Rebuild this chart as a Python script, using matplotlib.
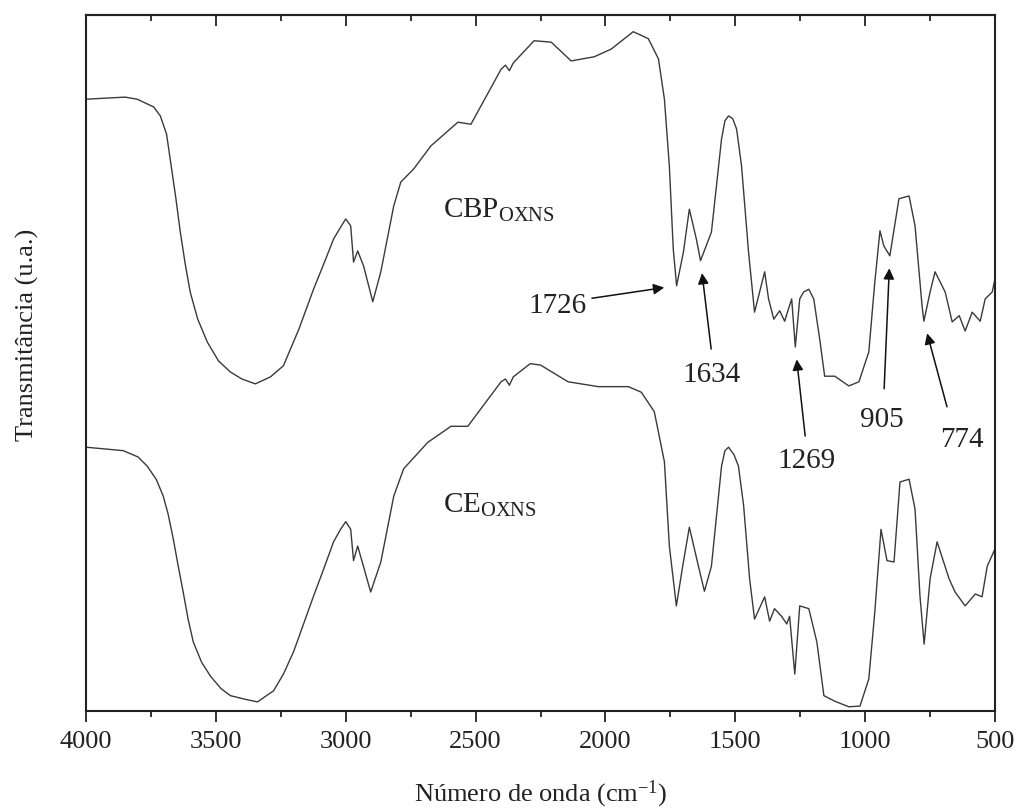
import numpy as np
import matplotlib
matplotlib.use("Agg")
import matplotlib.pyplot as plt
from matplotlib.ticker import MultipleLocator

# FTIR spectra (wavenumber in cm^-1, transmittance in arbitrary units)
cbp_wn = [4000, 3900, 3850, 3803, 3740, 3714, 3690, 3676, 3655, 3637, 3618, 3599,
          3570, 3533, 3490, 3444, 3400, 3348, 3290, 3240, 3180, 3124, 3085, 3047,
          3020, 3000, 2981, 2970, 2954, 2931, 2896, 2865, 2815, 2788, 2738,
          2672, 2568, 2518, 2402, 2385, 2370, 2355, 2275, 2209, 2132, 2043, 1978,
          1893, 1835, 1796, 1773, 1754, 1739, 1726, 1700, 1677, 1650, 1634, 1592,
          1553, 1540, 1526, 1510, 1495, 1476, 1449, 1426, 1387, 1372, 1352, 1329,
          1310, 1295, 1283, 1269, 1252, 1237, 1217, 1198, 1175, 1156, 1117, 1063,
          1024, 986, 963, 943, 928, 905, 870, 831, 808, 781, 774, 750, 731, 692,
          665, 638, 615, 588, 557, 538, 511, 500]
cbp_t = [87.9, 88.1, 88.2, 87.9, 86.8, 85.5, 82.9, 79.3, 73.9, 68.8, 64.2, 60.2,
         56.3, 53.0, 50.3, 48.7, 47.7, 47.0, 48.0, 49.6, 54.9, 60.6, 64.2, 67.8,
         69.5, 70.7, 69.7, 64.5, 66.1, 63.9, 58.8, 63.1, 72.6, 76.0, 77.9,
         81.2, 84.6, 84.3, 92.2, 92.8, 92.0, 93.1, 96.3, 96.1, 93.4, 94.0, 95.1,
         97.6, 96.6, 93.7, 87.9, 78.3, 66.4, 61.1, 65.9, 72.1, 67.8, 64.7, 68.8,
         82.2, 84.8, 85.5, 85.1, 83.6, 78.3, 65.9, 57.3, 63.1, 59.2, 56.3, 57.5,
         56.0, 57.8, 59.2, 52.3, 59.2, 60.2, 60.6, 59.2, 53.4, 48.1, 48.1, 46.7,
         47.3, 51.6, 61.6, 69.0, 66.8, 65.4, 73.6, 74.0, 69.7, 58.2, 56.0, 60.2,
         63.1, 60.2, 55.9, 56.8, 54.6, 57.3, 56.0, 59.2, 60.2, 62.1]

ce_wn = [4000, 3857, 3800, 3765, 3730, 3703, 3684, 3664, 3645, 3626, 3607, 3587,
         3555, 3521, 3480, 3444, 3390, 3340, 3278, 3240, 3201, 3124, 3085, 3047,
         3020, 3000, 2981, 2970, 2954, 2904, 2865, 2815, 2777, 2684, 2595,
         2530, 2402, 2385, 2370, 2355, 2290, 2250, 2144, 2028, 1912, 1862, 1812,
         1773, 1754, 1727, 1700, 1677, 1642, 1619, 1592, 1553, 1540, 1526, 1505,
         1488, 1468, 1445, 1426, 1387, 1368, 1349, 1322, 1302, 1291, 1271, 1252,
         1217, 1186, 1159, 1117, 1063, 1020, 986, 963, 939, 916, 889, 866, 831,
         808, 789, 773, 750, 723, 677, 654, 615, 576, 550, 530, 500]
ce_t = [37.9, 37.4, 36.5, 35.2, 33.3, 30.9, 28.3, 24.7, 20.8, 17.1, 13.2, 9.9,
        7.0, 5.0, 3.2, 2.2, 1.7, 1.3, 2.9, 5.3, 8.5, 16.5, 20.4, 24.3,
        26.1, 27.2, 26.1, 21.6, 23.7, 17.1, 21.4, 30.9, 34.8, 38.6, 40.9,
        40.9, 47.3, 47.7, 46.8, 48.0, 49.9, 49.7, 47.3, 46.6, 46.6, 45.8, 43.0,
        35.8, 23.7, 15.1, 21.4, 26.4, 20.8, 17.2, 20.8, 35.2, 37.4, 37.9, 36.8,
        35.2, 29.5, 19.0, 13.2, 16.4, 12.9, 14.7, 13.6, 12.5, 13.6, 5.3, 15.1,
        14.7, 9.9, 2.2, 1.4, 0.6, 0.7, 4.6, 14.2, 26.1, 21.6, 21.4, 32.9, 33.3,
        29.0, 16.5, 9.6, 19.0, 24.3, 19.0, 17.1, 15.1, 16.8, 16.4, 20.8, 23.3]

series_names = [r"CBP$_{\mathrm{OXNS}}$", r"CE$_{\mathrm{OXNS}}$"]

# Marked bands on the CBP spectrum
band_wn = [1726, 1634, 1269, 905, 774]
band_labels = ["1726", "1634", "1269", "905", "774"]

xtick_values = [4000, 3500, 3000, 2500, 2000, 1500, 1000, 500]

plt.rcParams["font.family"] = ["Liberation Serif", "DejaVu Serif"]
plt.rcParams["mathtext.fontset"] = "custom"
plt.rcParams["mathtext.rm"] = "Liberation Serif"
plt.rcParams["mathtext.it"] = "Liberation Serif:italic"
plt.rcParams["mathtext.bf"] = "Liberation Serif:bold"

fig = plt.figure(figsize=(10.17, 8.12), dpi=100)
ax = fig.add_axes([0.0846, 0.1232, 0.8938, 0.8571])

line_color = "#3a3a3a"
ax.plot(cbp_wn, cbp_t, color=line_color, lw=1.0)
ax.plot(ce_wn, ce_t, color=line_color, lw=1.0)

ax.set_xlim(4000, 500)
ax.set_ylim(0, 100)

# Bottom axis: outward ticks with labels
ax.set_xticks(xtick_values)
ax.xaxis.set_minor_locator(MultipleLocator(250))
ax.tick_params(axis="x", which="major", direction="out", length=8, width=1.3,
               labelsize=19, pad=6, colors="#222222")
ax.tick_params(axis="x", which="minor", direction="out", length=4, width=1.3,
               colors="#222222")
ax.tick_params(axis="y", left=False, labelleft=False)

# Top axis: inward ticks, no labels
top = ax.secondary_xaxis("top")
top.set_xticks(xtick_values)
top.xaxis.set_minor_locator(MultipleLocator(250))
top.tick_params(which="major", direction="in", length=8, width=1.3,
                labeltop=False, colors="#222222")
top.tick_params(which="minor", direction="in", length=4, width=1.3,
                colors="#222222")
top.spines["top"].set_linewidth(1.5)
top.spines["top"].set_color("#222222")

for s in ax.spines.values():
    s.set_linewidth(1.5)
    s.set_color("#222222")

ax.set_xlabel("Número de onda (cm$^{\\mathrm{-1}}$)", fontsize=19, labelpad=18,
              color="#222222")
ax.set_ylabel("Transmitância (u.a.)", fontsize=19, color="#222222")
ax.yaxis.set_label_coords(-0.052, 0.542)

# Series names
ax.text(2625, 71.0, series_names[0], fontsize=21, ha="left", va="baseline",
        color="#222222")
ax.text(2625, 28.6, series_names[1], fontsize=21, ha="left", va="baseline",
        color="#222222")

# Band annotations: arrow tails and label centres
tails = [(2052, 59.3), (1593, 52.0), (1231, 39.5), (927, 46.3), (685, 43.7)]
label_pos = [(2186, 58.8), (1590, 48.9), (1224, 36.5), (935, 42.4), (627, 39.5)]

for wn, lab, tail, lp in zip(band_wn, band_labels, tails, label_pos):
    t_at = float(np.interp(wn, cbp_wn[::-1], cbp_t[::-1]))
    ax.annotate("", xy=(wn, t_at), xytext=tail,
                arrowprops=dict(arrowstyle="-|>", color="#111111", lw=1.1,
                                mutation_scale=16, shrinkA=0, shrinkB=9))
    ax.text(lp[0], lp[1], lab, fontsize=21, ha="center", va="center_baseline",
            color="#222222")

fig.savefig("out.png", dpi=100)
